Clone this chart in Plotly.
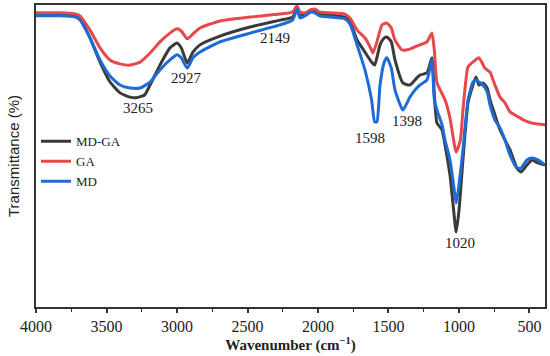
import plotly.graph_objects as go

# Wavenumber (cm^-1) and transmittance (%)
wn_mdga = [4000, 3830, 3720, 3688, 3617, 3546, 3475, 3404, 3333, 3290, 3230, 3191, 3121, 3050, 3000, 2970, 2927,
           2887, 2837, 2695, 2482, 2270, 2180, 2149, 2128, 2092, 2050, 2021, 1990, 1915, 1809, 1773, 1723, 1667,
           1620, 1598, 1560, 1530, 1511, 1480, 1454, 1398, 1348, 1300, 1277, 1227, 1192, 1175, 1156, 1120, 1099,
           1064, 1040, 1020, 1000, 972, 936, 901, 880, 858, 830, 800, 780, 745, 709, 674, 638, 589, 560, 518, 482,
           440, 390]
t_mdga = [96.7, 96.7, 96.4, 95.7, 89.1, 81.1, 74.5, 70.9, 69.5, 69.3, 70.2, 73.5, 80.1, 85.8, 87.4, 85.8, 80.8,
          84.4, 86.8, 89.7, 92.7, 95.0, 96.0, 99.0, 96.4, 97.0, 98.4, 98.0, 97.0, 96.7, 96.0, 94.4, 88.4, 84.4,
          81.1, 80.1, 86.8, 89.1, 89.4, 87.8, 81.8, 74.2, 73.5, 75.8, 76.8, 77.5, 82.5, 70.2, 60.9, 58.6, 53.6,
          43.7, 33.0, 24.8, 32.0, 48.7, 67.6, 73.5, 76.2, 73.5, 74.2, 72.5, 68.6, 63.6, 58.6, 55.3, 52.0, 46.0,
          44.7, 47.0, 48.7, 47.7, 47.0]

wn_ga = [4000, 3830, 3720, 3688, 3617, 3546, 3475, 3404, 3333, 3262, 3191, 3121, 3050, 3000, 2970, 2927, 2887,
         2837, 2695, 2482, 2270, 2180, 2149, 2128, 2092, 2050, 2021, 1990, 1915, 1809, 1773, 1723, 1667, 1620,
         1610, 1582, 1546, 1511, 1480, 1454, 1404, 1348, 1300, 1277, 1227, 1192, 1175, 1156, 1099, 1064, 1020,
         990, 972, 936, 901, 858, 816, 780, 745, 709, 674, 638, 589, 540, 482, 440, 390]
t_ga = [97.4, 97.4, 97.0, 96.4, 91.7, 85.8, 81.8, 80.5, 80.1, 81.1, 84.1, 87.8, 90.7, 92.1, 91.4, 88.8, 90.4,
        92.4, 94.7, 96.0, 97.0, 97.7, 99.7, 97.7, 97.4, 98.4, 98.7, 97.7, 97.4, 97.0, 95.7, 91.7, 89.1, 85.1,
        84.1, 87.8, 93.4, 94.0, 92.4, 88.4, 85.1, 85.4, 86.4, 86.8, 87.8, 90.7, 85.1, 74.2, 68.6, 62.6, 51.3,
        55.3, 65.2, 79.5, 81.1, 82.5, 79.1, 77.8, 73.5, 69.5, 67.6, 64.6, 63.2, 61.9, 60.9, 60.6, 60.3]

wn_md = [4000, 3830, 3720, 3688, 3617, 3546, 3475, 3404, 3333, 3262, 3191, 3121, 3050, 3000, 2970, 2927, 2887,
         2837, 2695, 2482, 2270, 2180, 2149, 2128, 2092, 2050, 2021, 1990, 1915, 1809, 1773, 1723, 1667, 1620,
         1598, 1582, 1560, 1530, 1511, 1480, 1454, 1398, 1348, 1300, 1277, 1227, 1192, 1175, 1156, 1120, 1099,
         1064, 1040, 1020, 1000, 972, 936, 901, 880, 858, 830, 800, 780, 745, 709, 674, 638, 589, 560, 518, 482,
         440, 390]
t_md = [96.4, 96.4, 96.0, 95.0, 89.1, 81.8, 76.5, 73.5, 72.5, 72.5, 74.5, 78.5, 81.8, 83.5, 82.5, 79.1, 82.5,
        84.4, 87.8, 90.7, 93.4, 95.0, 98.7, 95.7, 96.4, 97.7, 97.4, 96.4, 96.0, 95.4, 93.7, 86.8, 78.5, 68.6,
        61.3, 61.3, 73.5, 81.1, 82.5, 79.1, 71.9, 65.2, 69.5, 72.5, 73.5, 75.2, 81.8, 68.6, 65.2, 60.3, 55.3,
        48.7, 41.0, 34.4, 40.4, 52.0, 68.6, 74.5, 75.2, 74.5, 73.5, 71.2, 66.9, 61.9, 59.3, 55.3, 50.3, 46.0,
        46.0, 48.7, 49.3, 48.7, 47.0]

series_names = ["MD-GA", "GA", "MD"]
series_colors = ["#3a3a3a", "#e8474b", "#1f6bd6"]

# peak labels and the spot (wavenumber, transmittance) where each label sits
peak_labels = ["3265", "2927", "2149", "1598", "1398", "1020"]
label_wn = [3280, 2930, 2305, 1631, 1369, 993]
label_t = [65.8, 75.8, 89.1, 56.0, 61.6, 21.2]

x_tickvals = [4000, 3500, 3000, 2500, 2000, 1500, 1000, 500]
x_ticktext = ["4000", "3500", "3000", "2500", "2000", "1500", "1000", "500"]

serif = "Liberation Serif, Times New Roman, serif"

fig = go.Figure()
for xs, ys, name, color in zip([wn_mdga, wn_ga, wn_md], [t_mdga, t_ga, t_md], series_names, series_colors):
    fig.add_trace(go.Scatter(x=xs, y=ys, mode="lines", name=name,
                             line=dict(color=color, width=3, shape="spline", smoothing=0.5)))

for x, y, txt in zip(label_wn, label_t, peak_labels):
    fig.add_annotation(x=x, y=y, text=txt, showarrow=False,
                       font=dict(family=serif, size=15, color="#222222"))

fig.update_layout(
    width=550, height=356,
    margin=dict(l=36, r=5, t=5, b=49, autoexpand=False),
    plot_bgcolor="white", paper_bgcolor="white",
    showlegend=True,
    legend=dict(x=0.0, y=0.598, xanchor="left", yanchor="top",
                bgcolor="rgba(0,0,0,0)", font=dict(family=serif, size=13, color="#222222"),
                tracegroupgap=0, itemwidth=30),
)
fig.update_xaxes(
    range=[4000, 390], tickvals=x_tickvals, ticktext=x_ticktext, automargin=False,
    showgrid=False, zeroline=False,
    showline=True, linecolor="#333333", linewidth=1.5, mirror=True,
    ticks="outside", ticklen=4, tickwidth=1.5, tickcolor="#333333",
    minor=dict(dtick=250, tick0=0, ticks="outside", ticklen=3, tickwidth=1.2, tickcolor="#333333"),
    tickfont=dict(family=serif, size=16, color="#222222"),
    title=dict(text="<b>Wavenumber (cm<sup>−1</sup>)</b>", standoff=5,
               font=dict(family=serif, size=15, color="#222222")),
)
fig.update_yaxes(
    range=[0, 100], showticklabels=False, ticks="", automargin=False,
    showgrid=False, zeroline=False,
    showline=True, linecolor="#333333", linewidth=1.5, mirror=True,
    title=dict(text="Transmittance (%)", standoff=11,
               font=dict(family="Liberation Sans Narrow, Liberation Sans, Arial, sans-serif", size=15, color="#222222")),
)

fig.write_html("out.html", config={"displayModeBar": False},
               post_script="document.body.style.margin='0';")
